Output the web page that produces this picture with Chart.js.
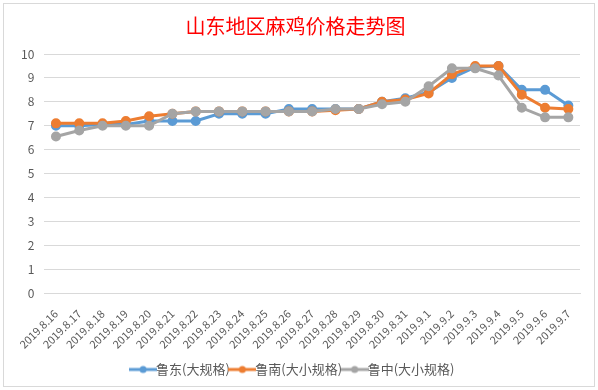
<!DOCTYPE html>
<html>
<head>
<meta charset="utf-8">
<script src="https://cdn.jsdelivr.net/npm/chart.js@4"></script>
<style>
  html, body { margin: 0; padding: 0; background: #fff; }
  #wrap { position: relative; width: 598px; height: 390px; }
</style>
</head>
<body>
<div id="wrap"><canvas id="c" width="598" height="390"></canvas></div>
<script>
// ===== Datos =====
const fechas = ['2019.8.16', '2019.8.17', '2019.8.18', '2019.8.19', '2019.8.20', '2019.8.21', '2019.8.22', '2019.8.23',
  '2019.8.24', '2019.8.25', '2019.8.26', '2019.8.27', '2019.8.28', '2019.8.29', '2019.8.30', '2019.8.31',
  '2019.9.1', '2019.9.2', '2019.9.3', '2019.9.4', '2019.9.5', '2019.9.6', '2019.9.7'];
const ludong = [7.0, 7.0, 7.05, 7.05, 7.2, 7.2, 7.2, 7.5, 7.5, 7.5, 7.7, 7.7, 7.7, 7.7, 8.0, 8.15, 8.4, 9.0, 9.45, 9.5, 8.5, 8.5, 7.85];
const lunan = [7.1, 7.1, 7.1, 7.2, 7.4, 7.5, 7.6, 7.6, 7.6, 7.6, 7.6, 7.6, 7.65, 7.7, 8.0, 8.1, 8.35, 9.15, 9.5, 9.5, 8.3, 7.75, 7.7];
const luzhong = [6.55, 6.8, 7.0, 7.0, 7.0, 7.5, 7.6, 7.6, 7.6, 7.6, 7.6, 7.6, 7.7, 7.7, 7.9, 8.0, 8.65, 9.4, 9.4, 9.1, 7.75, 7.35, 7.35];
const yTicks = [0, 1, 2, 3, 4, 5, 6, 7, 8, 9, 10];

const AZUL = '#5B9BD5', NARANJA = '#ED7D31', GRIS = '#A5A5A5';
const TXT = '#595959';
const FONT = "'Noto Sans CJK SC', 'DejaVu Sans', sans-serif";

// icono de leyenda: linea + circulo
function iconoLeyenda(color) {
  const cv = document.createElement('canvas');
  cv.width = 28; cv.height = 10;
  const g = cv.getContext('2d');
  g.strokeStyle = color; g.lineWidth = 3;
  g.beginPath(); g.moveTo(0, 5); g.lineTo(28, 5); g.stroke();
  g.fillStyle = color;
  g.beginPath(); g.arc(14, 5, 3.5, 0, Math.PI * 2); g.fill();
  return cv;
}

// fondo y marco del grafico
const marco = {
  id: 'marco',
  beforeDraw(chart) {
    const ctx = chart.ctx;
    ctx.save();
    ctx.fillStyle = '#fff';
    ctx.fillRect(0, 0, chart.width, chart.height);
    ctx.strokeStyle = '#d9d9d9'; ctx.lineWidth = 1;
    ctx.strokeRect(3.5, 3.5, 591, 383);
    ctx.restore();
  }
};

const serie = (label, data, color, order) => ({
  label, data, order,
  borderColor: color, backgroundColor: color,
  pointBackgroundColor: color, pointBorderColor: color,
  borderWidth: 3, pointRadius: 3.5, pointHoverRadius: 4,
  tension: 0, pointStyle: 'circle'
});

new Chart(document.getElementById('c'), {
  type: 'line',
  data: {
    labels: fechas,
    datasets: [
      serie('鲁东(大规格)', ludong, AZUL, 3),
      serie('鲁南(大小规格)', lunan, NARANJA, 2),
      serie('鲁中(大小规格)', luzhong, GRIS, 1)
    ]
  },
  options: {
    responsive: false,
    animation: false,
    layout: { padding: { left: 11, right: 18, top: 6, bottom: 4 } },
    plugins: {
      title: {
        display: true, text: '山东地区麻鸡价格走势图', color: '#FF0000',
        font: { family: FONT, size: 20, weight: 'normal' },
        padding: { top: 8, bottom: 16 }
      },
      legend: {
        position: 'bottom',
        labels: {
          color: TXT, font: { family: FONT, size: 13 },
          usePointStyle: true, boxWidth: 28, boxHeight: 10, padding: 6,
          sort: (a, b) => a.datasetIndex - b.datasetIndex,
          generateLabels(chart) {
            return chart.data.datasets.map((d, i) => ({
              text: d.label, datasetIndex: i, fontColor: TXT,
              pointStyle: iconoLeyenda(d.borderColor), hidden: false, lineWidth: 0
            }));
          }
        }
      },
      tooltip: { enabled: false }
    },
    scales: {
      x: {
        offset: true,
        grid: { display: false },
        border: { color: '#d9d9d9' },
        ticks: { color: TXT, font: { family: FONT, size: 11 }, minRotation: 45, maxRotation: 45, autoSkip: false, padding: 6 }
      },
      y: {
        min: 0, max: 10,
        afterBuildTicks(axis) { axis.ticks = yTicks.map(v => ({ value: v })); },
        grid: { color: '#d9d9d9', drawTicks: false },
        border: { display: false },
        ticks: { color: TXT, font: { family: FONT, size: 12 }, padding: 10 }
      }
    }
  },
  plugins: [marco]
});
</script>
</body>
</html>
